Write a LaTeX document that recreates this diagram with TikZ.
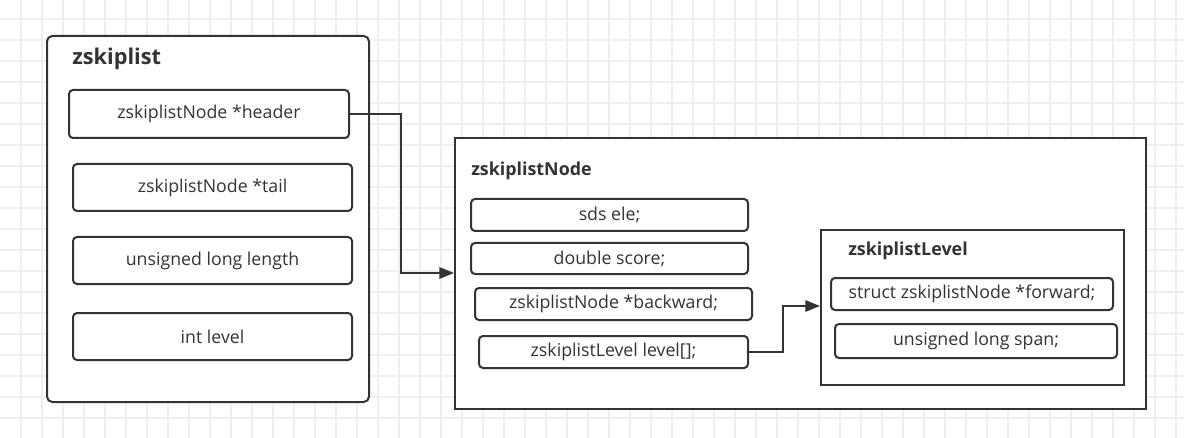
\documentclass[tikz,border=0pt]{standalone}
\usepackage{fontspec}
\setmainfont{Open Sans}
\usetikzlibrary{arrows.meta}
\definecolor{ink}{HTML}{333333}
\definecolor{gridc}{HTML}{EEEEEE}
\tikzset{
  field/.style={draw=ink, line width=1.5pt, rounded corners=3pt, fill=white,
    anchor=north west, inner sep=0pt, text=ink, font=\fontsize{13.3}{15}\selectfont},
  frame/.style={draw=ink, line width=1.5pt, fill=white, anchor=north west, inner sep=0pt},
  title/.style={anchor=base west, inner sep=0pt, text=ink, font=\bfseries\fontsize{13.4}{16}\selectfont},
  conn/.style={draw=ink, line width=1.5pt, -{Triangle[length=11pt,width=8.5pt]}},
}
\begin{document}
\begin{tikzpicture}[x=0.75pt,y=-0.75pt]
\useasboundingbox (0,0) rectangle (1184,438);
\fill[white] (0,0) rectangle (1184,438);
% grid
\foreach \i in {1,...,56} {\draw[gridc, line width=1.1pt] (21*\i,0) -- (21*\i,438);}
\foreach \j in {1,...,21} {\draw[gridc, line width=1.1pt] (0,21*\j-2) -- (1184,21*\j-2);}

% zskiplist
\node[frame, rounded corners=4pt, minimum width=322*0.75pt, minimum height=366*0.75pt] (zsl) at (46,35) {};
\node[title, font=\bfseries\fontsize{16.3}{19}\selectfont] (zsltitle) at (72,65) {zskiplist};
\node[field, minimum width=280*0.75pt, minimum height=48*0.75pt] (header) at (68,89) {zskiplistNode *header};
\node[field, minimum width=279*0.75pt, minimum height=47*0.75pt] (tail) at (72,163) {zskiplistNode *tail};
\node[field, minimum width=279*0.75pt, minimum height=47*0.75pt] (length) at (72,236) {unsigned long length};
\node[field, minimum width=279*0.75pt, minimum height=47*0.75pt] (level) at (72,312) {int level};

% zskiplistNode
\node[frame, minimum width=691*0.75pt, minimum height=271*0.75pt] (zsn) at (454,137) {};
\node[title] (zsntitle) at (471,176) {zskiplistNode};
\node[field, minimum width=277*0.75pt, minimum height=32*0.75pt] (ele) at (470,198) {sds ele;};
\node[field, minimum width=277*0.75pt, minimum height=31*0.75pt] (score) at (470,242) {double score;};
\node[field, minimum width=277*0.75pt, minimum height=32*0.75pt] (backward) at (474,287) {zskiplistNode *backward;};
\node[field, minimum width=269*0.75pt, minimum height=32*0.75pt] (lvlarr) at (478,335) {zskiplistLevel level[];};

% zskiplistLevel
\node[frame, minimum width=303*0.75pt, minimum height=155*0.75pt] (zlv) at (820,229) {};
\node[title] (zlvtitle) at (848,256) {zskiplistLevel};
\node[field, minimum width=282*0.75pt, minimum height=32*0.75pt] (forward) at (830,277) {struct zskiplistNode *forward;};
\node[field, minimum width=282*0.75pt, minimum height=34*0.75pt] (span) at (834,323) {unsigned long span;};

% connectors
\coordinate (a1) at (401,273);
\draw[conn] (header.east) -| (a1) -- (a1 -| zsn.west);
\coordinate (a2) at (783,306);
\draw[conn] (lvlarr.east) -| (a2) -- (a2 -| zlv.west);
\end{tikzpicture}
\end{document}
